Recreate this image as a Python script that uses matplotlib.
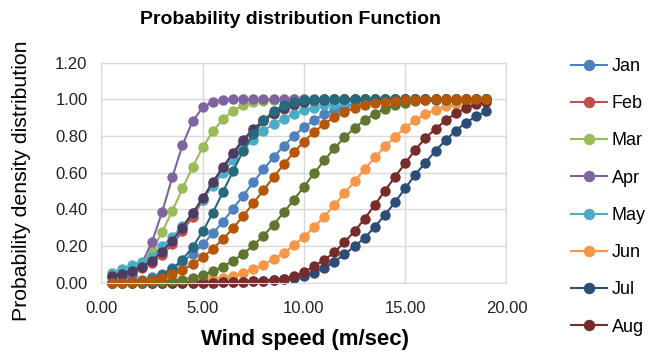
import matplotlib
matplotlib.use("Agg")
import matplotlib.pyplot as plt

plt.rcParams['font.family'] = ['Liberation Sans', 'DejaVu Sans']

# wind speed bins (m/sec)
wind_speed = [0.5, 1.0, 1.5, 2.0, 2.5, 3.0, 3.5, 4.0, 4.5, 5.0,
              5.5, 6.0, 6.5, 7.0, 7.5, 8.0, 8.5, 9.0, 9.5, 10.0,
              10.5, 11.0, 11.5, 12.0, 12.5, 13.0, 13.5, 14.0, 14.5, 15.0,
              15.5, 16.0, 16.5, 17.0, 17.5, 18.0, 18.5, 19.0]

months = ['Jan', 'Feb', 'Mar', 'Apr', 'May', 'Jun',
          'Jul', 'Aug', 'Sep', 'Oct', 'Nov', 'Dec']

jan = [0.000, 0.002, 0.006, 0.015, 0.029, 0.050, 0.078, 0.113, 0.158, 0.209,
       0.269, 0.333, 0.404, 0.475, 0.548, 0.618, 0.685, 0.746, 0.801, 0.848,
       0.887, 0.918, 0.943, 0.961, 0.975, 0.984, 0.990, 0.994, 0.997, 0.998,
       0.999, 1.000, 1.000, 1.000, 1.000, 1.000, 1.000, 1.000]
feb = [0.030, 0.045, 0.060, 0.080, 0.110, 0.150, 0.210, 0.280, 0.360, 0.450,
       0.540, 0.620, 0.700, 0.770, 0.830, 0.880, 0.920, 0.950, 0.970, 0.985,
       0.990, 0.995, 0.998, 1.000, 1.000, 1.000, 1.000, 1.000, 1.000, 1.000,
       1.000, 1.000, 1.000, 1.000, 1.000, 1.000, 1.000, 1.000]
mar = [0.002, 0.015, 0.046, 0.100, 0.177, 0.277, 0.392, 0.514, 0.632, 0.738,
       0.826, 0.892, 0.938, 0.967, 0.984, 0.993, 0.997, 0.999, 1.000, 1.000,
       1.000, 1.000, 1.000, 1.000, 1.000, 1.000, 1.000, 1.000, 1.000, 1.000,
       1.000, 1.000, 1.000, 1.000, 1.000, 1.000, 1.000, 1.000]
apr = [0.001, 0.009, 0.039, 0.107, 0.224, 0.387, 0.576, 0.750, 0.881, 0.956,
       0.988, 0.998, 1.000, 1.000, 1.000, 1.000, 1.000, 1.000, 1.000, 1.000,
       1.000, 1.000, 1.000, 1.000, 1.000, 1.000, 1.000, 1.000, 1.000, 1.000,
       1.000, 1.000, 1.000, 1.000, 1.000, 1.000, 1.000, 1.000]
may = [0.055, 0.075, 0.095, 0.115, 0.140, 0.200, 0.250, 0.310, 0.380, 0.450,
       0.530, 0.600, 0.670, 0.730, 0.780, 0.830, 0.865, 0.895, 0.920, 0.940,
       0.955, 0.967, 0.977, 0.985, 0.990, 0.993, 0.996, 0.998, 1.000, 1.000,
       1.000, 1.000, 1.000, 1.000, 1.000, 1.000, 1.000, 1.000]
jun = [0.000, 0.000, 0.000, 0.000, 0.000, 0.001, 0.002, 0.004, 0.007, 0.012,
       0.018, 0.027, 0.039, 0.054, 0.074, 0.098, 0.128, 0.163, 0.204, 0.251,
       0.303, 0.361, 0.423, 0.488, 0.553, 0.619, 0.683, 0.743, 0.797, 0.845,
       0.886, 0.919, 0.944, 0.964, 0.977, 0.987, 0.992, 0.996]
jul = [0.000, 0.000, 0.000, 0.000, 0.000, 0.000, 0.000, 0.000, 0.000, 0.001,
       0.001, 0.002, 0.003, 0.005, 0.007, 0.010, 0.014, 0.019, 0.025, 0.035,
       0.055, 0.080, 0.115, 0.155, 0.198, 0.245, 0.305, 0.370, 0.440, 0.515,
       0.590, 0.655, 0.720, 0.778, 0.830, 0.873, 0.908, 0.935]
aug = [0.000, 0.000, 0.000, 0.000, 0.000, 0.000, 0.000, 0.000, 0.000, 0.001,
       0.001, 0.002, 0.003, 0.005, 0.007, 0.010, 0.015, 0.022, 0.035, 0.058,
       0.090, 0.125, 0.165, 0.222, 0.280, 0.350, 0.425, 0.502, 0.578, 0.652,
       0.725, 0.790, 0.840, 0.885, 0.925, 0.952, 0.972, 0.987]
sep = [0.000, 0.000, 0.000, 0.001, 0.003, 0.005, 0.010, 0.017, 0.028, 0.042,
       0.062, 0.088, 0.120, 0.158, 0.204, 0.257, 0.317, 0.383, 0.452, 0.524,
       0.597, 0.667, 0.733, 0.792, 0.844, 0.887, 0.922, 0.948, 0.967, 0.980,
       0.989, 0.994, 0.997, 0.998, 0.999, 1.000, 1.000, 1.000]
oct_ = [0.035, 0.050, 0.065, 0.087, 0.120, 0.170, 0.230, 0.300, 0.380, 0.460,
        0.550, 0.630, 0.710, 0.780, 0.840, 0.885, 0.925, 0.955, 0.975, 0.987,
        0.994, 0.997, 1.000, 1.000, 1.000, 1.000, 1.000, 1.000, 1.000, 1.000,
        1.000, 1.000, 1.000, 1.000, 1.000, 1.000, 1.000, 1.000]
nov = [0.000, 0.001, 0.003, 0.008, 0.020, 0.042, 0.076, 0.126, 0.194, 0.280,
       0.382, 0.495, 0.610, 0.720, 0.811, 0.885, 0.936, 0.969, 0.986, 0.995,
       0.998, 1.000, 1.000, 1.000, 1.000, 1.000, 1.000, 1.000, 1.000, 1.000,
       1.000, 1.000, 1.000, 1.000, 1.000, 1.000, 1.000, 1.000]
dec = [0.000, 0.001, 0.003, 0.007, 0.015, 0.027, 0.045, 0.069, 0.100, 0.138,
       0.185, 0.238, 0.298, 0.364, 0.434, 0.505, 0.576, 0.645, 0.711, 0.770,
       0.822, 0.866, 0.903, 0.931, 0.953, 0.970, 0.981, 0.988, 0.993, 0.996,
       0.998, 0.999, 1.000, 1.000, 1.000, 1.000, 1.000, 1.000]

series = [jan, feb, mar, apr, may, jun, jul, aug, sep, oct_, nov, dec]

# office 2007 palette, darker shades for the second six
colors = ['#4F81BD', '#C0504D', '#9BBB59', '#8064A2', '#4BACC6', '#F79646',
          '#2C4D75', '#772C2A', '#5F7530', '#4D3B62', '#276A7C', '#B65708']

fig = plt.figure(figsize=(6.48, 3.56), dpi=100)
ax = fig.add_axes([0.1566, 0.2059, 0.625, 0.618])

lines = []
for name, vals, c in zip(months, series, colors):
    ln, = ax.plot(wind_speed, vals, color=c, marker='o', markersize=7.5,
                  markeredgewidth=0, linewidth=1.5, label=name, clip_on=False)
    lines.append(ln)

xt = [0, 5, 10, 15, 20]
yt = [0, 0.2, 0.4, 0.6, 0.8, 1.0, 1.2]
ax.set_xlim(0, 20)
ax.set_ylim(0, 1.2)
ax.set_xticks(xt)
ax.set_yticks(yt)
ax.set_xticklabels(['%.2f' % v for v in xt])
ax.set_yticklabels(['%.2f' % v for v in yt])
ax.tick_params(length=0, labelsize=12, colors='#222222')
ax.tick_params(axis='x', pad=13)
ax.tick_params(axis='y', pad=10)
ax.grid(True, color='#D9D9D9', linewidth=1)
ax.set_axisbelow(True)
for s in ax.spines.values():
    s.set_color('#D9D9D9')

fig.text(305 / 648, 1 - 340 / 356, 'Wind speed (m/sec)', fontsize=16,
         fontweight='bold', ha='center', va='center')
fig.text(22 / 648, 1 - 181 / 356, 'Probability density distribution',
         fontsize=15.3, rotation=90, ha='center', va='center')
fig.text(291 / 648, 1 - 20 / 356, 'Probability distribution Function',
         fontsize=14, fontweight='bold', ha='center', va='center')

# excel only fits the first eight entries
fig.legend(lines[:8], months[:8], loc='upper left',
           bbox_to_anchor=(562 / 648, 1 - 49 / 356), frameon=False,
           fontsize=13, handlelength=2.0, handletextpad=0.25,
           labelspacing=1.12, borderpad=0, markerscale=1.1)

fig.savefig('out.png', dpi=100)
